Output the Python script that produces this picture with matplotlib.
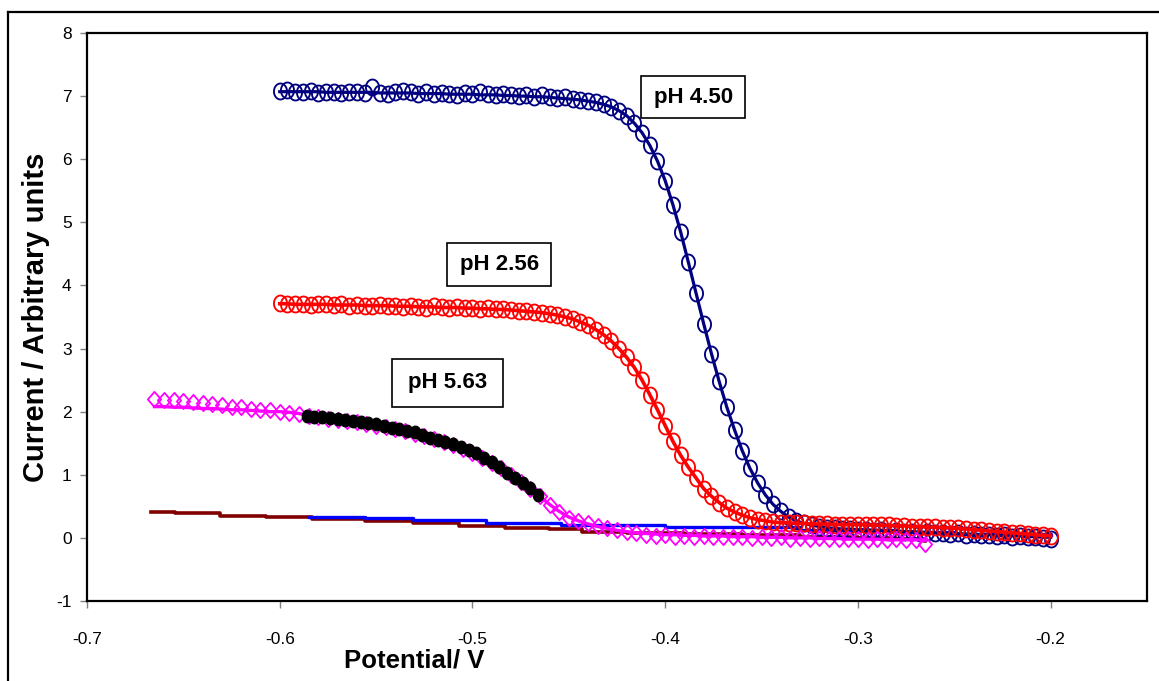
import numpy as np
import matplotlib
matplotlib.use("Agg")
import matplotlib.pyplot as plt
from matplotlib.path import Path
from matplotlib.lines import Line2D
from matplotlib.patches import Rectangle

plt.rcParams['font.family'] = ['Liberation Sans', 'DejaVu Sans']

# ---- pH 4.50 : measured current and fitted curve (-0.600 ... -0.200 V, 4 mV steps)
ph450_current = [
    7.08, 7.10, 7.07, 7.06, 7.08, 7.05, 7.07, 7.06, 7.05, 7.07,
    7.06, 7.05, 7.14, 7.05, 7.03, 7.07, 7.08, 7.06, 7.04, 7.06,
    7.03, 7.05, 7.04, 7.02, 7.05, 7.03, 7.06, 7.04, 7.01, 7.03,
    7.02, 7.00, 7.02, 6.99, 7.01, 6.98, 6.97, 6.99, 6.95, 6.94,
    6.92, 6.90, 6.87, 6.83, 6.77, 6.69, 6.57, 6.42, 6.22, 5.97,
    5.66, 5.28, 4.85, 4.37, 3.88, 3.39, 2.92, 2.48, 2.07, 1.71,
    1.38, 1.10, 0.87, 0.68, 0.53, 0.42, 0.33, 0.27, 0.23, 0.20,
    0.18, 0.16, 0.15, 0.14, 0.14, 0.13, 0.13, 0.11, 0.12, 0.10,
    0.11, 0.09, 0.10, 0.08, 0.09, 0.07, 0.08, 0.06, 0.07, 0.05,
    0.06, 0.04, 0.05, 0.03, 0.04, 0.02, 0.03, 0.01, 0.02, 0.00,
    -0.01,
]
ph450_fit = [
    7.07, 7.07, 7.07, 7.07, 7.07, 7.07, 7.06, 7.06, 7.06, 7.06,
    7.06, 7.06, 7.06, 7.05, 7.05, 7.05, 7.05, 7.05, 7.04, 7.04,
    7.04, 7.04, 7.03, 7.03, 7.03, 7.03, 7.02, 7.02, 7.02, 7.01,
    7.01, 7.00, 7.00, 6.99, 6.99, 6.98, 6.97, 6.96, 6.95, 6.94,
    6.92, 6.90, 6.87, 6.83, 6.77, 6.69, 6.57, 6.42, 6.22, 5.97,
    5.66, 5.28, 4.85, 4.37, 3.88, 3.39, 2.92, 2.48, 2.07, 1.71,
    1.38, 1.10, 0.87, 0.68, 0.53, 0.42, 0.33, 0.27, 0.23, 0.20,
    0.18, 0.16, 0.15, 0.14, 0.14, 0.13, 0.13, 0.12, 0.12, 0.11,
    0.11, 0.10, 0.10, 0.09, 0.09, 0.08, 0.08, 0.07, 0.07, 0.06,
    0.06, 0.05, 0.05, 0.04, 0.04, 0.03, 0.03, 0.02, 0.02, 0.01,
    0.01,
]

# ---- pH 2.56 : measured current and fitted curve (-0.600 ... -0.200 V, 4 mV steps)
ph256_current = [
    3.72, 3.70, 3.71, 3.70, 3.69, 3.70, 3.70, 3.69, 3.70, 3.68,
    3.69, 3.68, 3.67, 3.69, 3.68, 3.67, 3.66, 3.68, 3.66, 3.65,
    3.67, 3.66, 3.64, 3.66, 3.65, 3.64, 3.63, 3.64, 3.62, 3.63,
    3.61, 3.60, 3.60, 3.58, 3.57, 3.55, 3.53, 3.50, 3.47, 3.42,
    3.37, 3.30, 3.22, 3.12, 3.00, 2.86, 2.70, 2.50, 2.27, 2.03,
    1.78, 1.53, 1.31, 1.12, 0.95, 0.78, 0.66, 0.56, 0.47, 0.41,
    0.36, 0.32, 0.29, 0.27, 0.25, 0.24, 0.24, 0.23, 0.23, 0.22,
    0.22, 0.22, 0.21, 0.21, 0.21, 0.21, 0.21, 0.20, 0.20, 0.20,
    0.19, 0.19, 0.18, 0.18, 0.17, 0.17, 0.16, 0.16, 0.15, 0.14,
    0.13, 0.12, 0.11, 0.10, 0.09, 0.08, 0.07, 0.06, 0.05, 0.04,
    0.03,
]
ph256_fit = [
    3.71, 3.71, 3.70, 3.70, 3.70, 3.70, 3.70, 3.69, 3.69, 3.69,
    3.69, 3.68, 3.68, 3.68, 3.68, 3.67, 3.67, 3.67, 3.66, 3.66,
    3.66, 3.65, 3.65, 3.65, 3.64, 3.64, 3.63, 3.63, 3.62, 3.62,
    3.61, 3.60, 3.59, 3.58, 3.57, 3.55, 3.53, 3.50, 3.47, 3.42,
    3.37, 3.30, 3.22, 3.12, 3.00, 2.86, 2.70, 2.50, 2.27, 2.03,
    1.78, 1.53, 1.31, 1.12, 0.95, 0.78, 0.66, 0.56, 0.47, 0.41,
    0.36, 0.32, 0.29, 0.27, 0.25, 0.24, 0.24, 0.23, 0.23, 0.22,
    0.22, 0.22, 0.21, 0.21, 0.21, 0.21, 0.21, 0.20, 0.20, 0.20,
    0.19, 0.19, 0.18, 0.18, 0.17, 0.17, 0.16, 0.16, 0.15, 0.14,
    0.13, 0.12, 0.11, 0.10, 0.09, 0.08, 0.07, 0.06, 0.05, 0.04,
    0.03,
]

# ---- pH 5.63 : measured current and fitted curve (-0.665 ... -0.265 V, 5 mV steps)
ph563_current = [
    2.20, 2.19, 2.18, 2.17, 2.15, 2.14, 2.12, 2.10, 2.08, 2.07,
    2.05, 2.03, 2.02, 2.00, 1.98, 1.96, 1.93, 1.91, 1.89, 1.87,
    1.85, 1.83, 1.80, 1.78, 1.75, 1.72, 1.69, 1.65, 1.61, 1.57,
    1.52, 1.47, 1.41, 1.35, 1.27, 1.19, 1.10, 1.00, 0.88, 0.78,
    0.66, 0.52, 0.41, 0.32, 0.27, 0.23, 0.19, 0.15, 0.12, 0.09,
    0.07, 0.05, 0.03, 0.04, 0.02, 0.03, 0.02, 0.03, 0.01, 0.02,
    0.01, 0.02, 0.00, 0.01, 0.00, 0.01, -0.01, 0.00, -0.01, 0.00,
    -0.02, -0.01, -0.02, -0.01, -0.03, -0.02, -0.03, -0.02, -0.04, -0.03,
    -0.09,
]
ph563_fit = [
    2.08, 2.08, 2.07, 2.07, 2.06, 2.05, 2.05, 2.04, 2.03, 2.03,
    2.02, 2.01, 2.00, 2.00, 1.99, 1.97, 1.94, 1.92, 1.90, 1.88,
    1.86, 1.83, 1.81, 1.78, 1.75, 1.72, 1.69, 1.65, 1.61, 1.57,
    1.52, 1.47, 1.41, 1.35, 1.27, 1.19, 1.10, 1.00, 0.89, 0.78,
    0.66, 0.53, 0.42, 0.33, 0.27, 0.22, 0.18, 0.15, 0.12, 0.10,
    0.08, 0.07, 0.06, 0.05, 0.05, 0.04, 0.04, 0.03, 0.03, 0.03,
    0.02, 0.02, 0.02, 0.01, 0.01, 0.01, 0.00, 0.00, 0.00, -0.01,
    -0.01, -0.01, -0.02, -0.02, -0.02, -0.02, -0.03, -0.03, -0.03, -0.03,
    -0.04,
]

# ---- pH 5.63 : filled points of the rising section (-0.586 ... -0.466 V, 4 mV steps)
ph563_points = [
    1.93, 1.92, 1.91, 1.90, 1.89, 1.87, 1.86, 1.84, 1.82, 1.80,
    1.77, 1.74, 1.72, 1.70, 1.67, 1.63, 1.59, 1.55, 1.52, 1.48,
    1.44, 1.39, 1.34, 1.27, 1.20, 1.12, 1.03, 0.95, 0.87, 0.79,
    0.68,
]

# ---- blank (background) currents
blank_a_potential = [-0.667, -0.6545, -0.631, -0.607, -0.583, -0.556, -0.531,
                     -0.507, -0.483, -0.4605, -0.443, -0.42, -0.39, -0.36,
                     -0.33, -0.30, -0.28, -0.265]
blank_a_current = [0.415, 0.39, 0.35, 0.33, 0.295, 0.27, 0.23,
                   0.19, 0.16, 0.14, 0.10, 0.08, 0.06, 0.04,
                   0.02, 0.00, -0.02, -0.05]
blank_b_potential = [-0.585, -0.556, -0.531, -0.493, -0.454, -0.40, -0.33,
                     -0.28, -0.25, -0.20]
blank_b_current = [0.335, 0.31, 0.29, 0.24, 0.20, 0.17, 0.13,
                   0.09, 0.06, 0.04]

x_ticks = [-0.7, -0.6, -0.5, -0.4, -0.3, -0.2]
y_ticks = [-1, 0, 1, 2, 3, 4, 5, 6, 7, 8]

# potential grids of the sweeps
e_acid = np.linspace(-0.600, -0.200, len(ph450_current))
e_563 = np.linspace(-0.665, -0.265, len(ph563_current))
e_pts = np.linspace(-0.586, -0.466, len(ph563_points))

# slightly narrow marker shapes
t = np.linspace(0, 2 * np.pi, 61)
ellipse = Path(np.column_stack([0.82 * np.cos(t), np.sin(t)]), closed=True)
diamond = Path([(0, 1), (0.87, 0), (0, -1), (-0.87, 0), (0, 1)], closed=True)

W, H = 1159, 681
fig = plt.figure(figsize=(W / 100, H / 100), dpi=100)
fig.patch.set_facecolor('white')

# outer frame (left and top edges visible)
fig.add_artist(Line2D([8 / W, 8 / W], [0, 1 - 12 / H], transform=fig.transFigure,
                      color='black', lw=1.6))
fig.add_artist(Line2D([8 / W, 1], [1 - 12 / H, 1 - 12 / H], transform=fig.transFigure,
                      color='black', lw=1.6))

ax = fig.add_axes([87 / W, 1 - 601 / H, (1147 - 87) / W, (601 - 33) / H])

ax.plot(blank_a_potential, blank_a_current, color='#800000', lw=2.6,
        drawstyle='steps-post', zorder=2)
ax.plot(blank_b_potential, blank_b_current, color='#0000FF', lw=2.4,
        drawstyle='steps-post', zorder=2.1)

ax.plot(e_acid, ph450_current, ls='none', marker=ellipse, ms=11.5, mfc='none',
        mec='#000080', mew=1.35, zorder=3)
ax.plot(e_acid, ph450_fit, color='#000080', lw=2.3, zorder=3.1)

ax.plot(e_acid, ph256_current, ls='none', marker=ellipse, ms=11.5, mfc='none',
        mec='#FF0000', mew=1.35, zorder=3.2)
ax.plot(e_acid, ph256_fit, color='#FF0000', lw=2.6, zorder=3.3)

ax.plot(e_563, ph563_current, ls='none', marker=diamond, ms=11, mfc='none',
        mec='#FF00FF', mew=1.3, zorder=3.4)
ax.plot(e_563, ph563_fit, color='#FF00FF', lw=2.4, zorder=3.5)
ax.plot(e_pts, ph563_points, ls='none', marker=ellipse, ms=9, mfc='black',
        mec='black', zorder=3.6)

ax.set_xlim(-0.7, -0.15)
ax.set_ylim(-1, 8)
ax.set_xticks(x_ticks)
ax.set_yticks(y_ticks)
ax.set_xticklabels([f'{v:g}' for v in x_ticks], fontsize=12.5)
ax.set_yticklabels([f'{v:g}' for v in y_ticks], fontsize=12.5)
ax.tick_params(axis='x', direction='out', length=5, width=1, color='#808080', pad=17)
ax.tick_params(axis='y', direction='out', length=5, width=1, color='#808080', pad=6)
for s in ax.spines.values():
    s.set_linewidth(1.6)
    s.set_color('black')

# pH labels in boxes
boxes = [
    ('pH 4.50', -0.4124, 6.65, 0.0538, 0.67),
    ('pH 2.56', -0.5133, 3.99, 0.0543, 0.68),
    ('pH 5.63', -0.5417, 2.07, 0.0574, 0.77),
]
for label, x0, y0, w, h in boxes:
    ax.add_patch(Rectangle((x0, y0), w, h, facecolor='white', edgecolor='black',
                           lw=1.2, zorder=5))
    ax.text(x0 + w / 2, y0 + h / 2, label, ha='center', va='center',
            fontsize=16, fontweight='bold', zorder=6)

fig.text(414 / W, 1 - 661 / H, 'Potential/ V', ha='center', va='center',
         fontsize=18.5, fontweight='bold')
fig.text(36 / W, 1 - 317 / H, 'Current / Arbitrary units', ha='center',
         va='center', rotation=90, fontsize=21, fontweight='bold')

fig.savefig('out.png', dpi=100)
